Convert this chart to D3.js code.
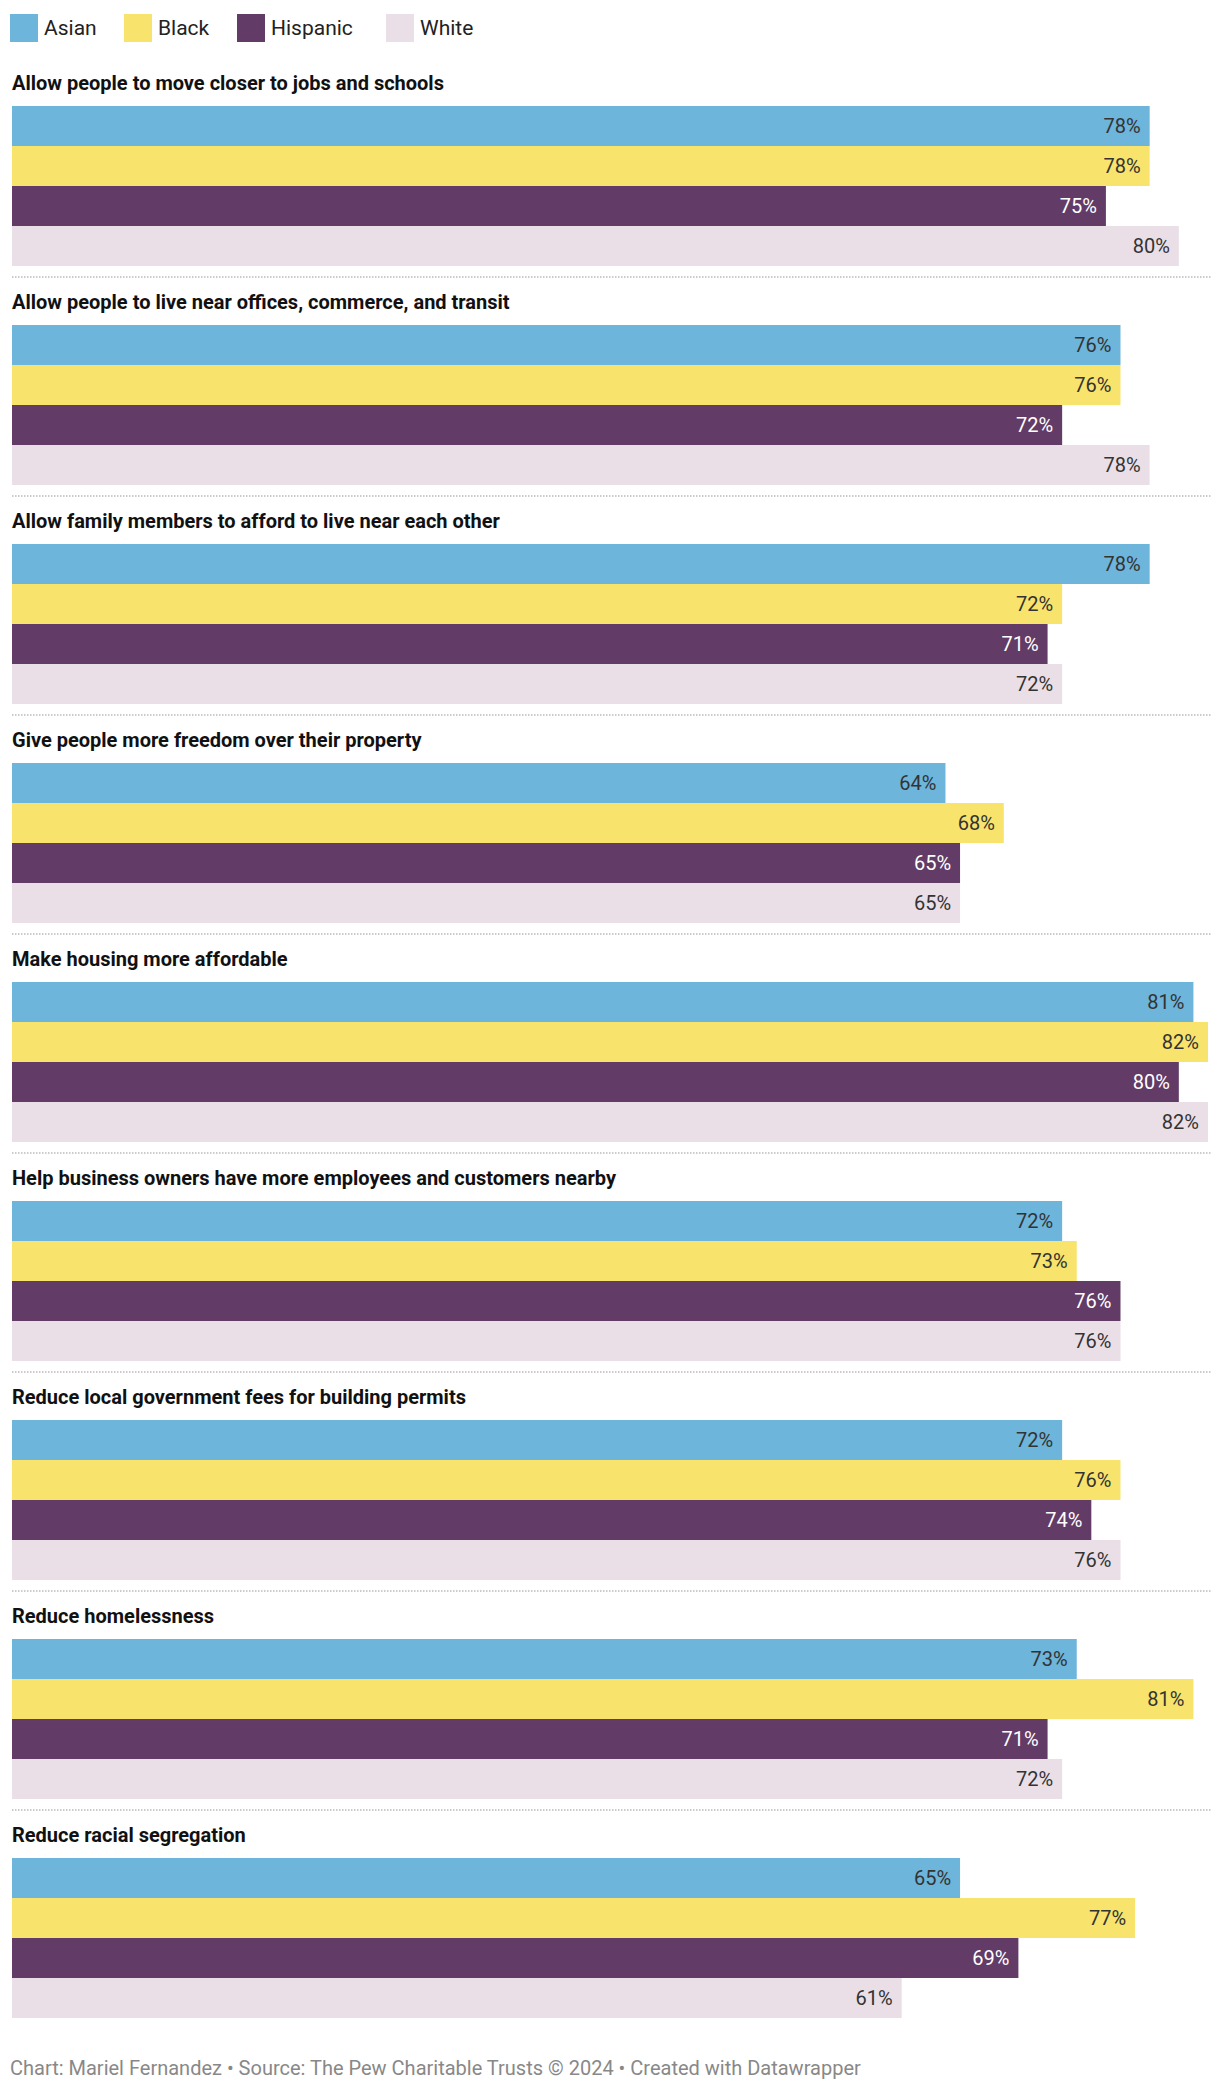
<!DOCTYPE html>
<html lang="en">
<head>
<meta charset="utf-8">
<title>Zoning reform support by race</title>
<style>
  body { margin: 0; background: #fff; font-family: Roboto, sans-serif; }
</style>
</head>
<body>
<svg id="chart"></svg>
<script src="https://cdn.jsdelivr.net/npm/d3@7"></script>
<script>
const series = ["Asian", "Black", "Hispanic", "White"];
const colors = ["#6db5da", "#f8e46c", "#623b67", "#eadfe7"];
const labelColors = ["#333", "#333", "#fff", "#333"];
const questions = [
  "Allow people to move closer to jobs and schools",
  "Allow people to live near offices, commerce, and transit",
  "Allow family members to afford to live near each other",
  "Give people more freedom over their property",
  "Make housing more affordable",
  "Help business owners have more employees and customers nearby",
  "Reduce local government fees for building permits",
  "Reduce homelessness",
  "Reduce racial segregation"
];
const asian    = [78, 76, 78, 64, 81, 72, 72, 73, 65];
const black    = [78, 76, 72, 68, 82, 73, 76, 81, 77];
const hispanic = [75, 72, 71, 65, 80, 76, 74, 71, 69];
const white    = [80, 78, 72, 65, 82, 76, 76, 72, 61];
const values = [asian, black, hispanic, white];

const W = 1220, H = 2092;
const marginLeft = 12, barH = 40, groupH = 219, marginTop = 106;

const svg = d3.select("#chart").attr("width", W).attr("height", H);

const x = d3.scaleLinear().domain([0, 82]).range([marginLeft, 1208]);
const yGroup = d3.scaleBand().domain(d3.range(questions.length))
  .range([marginTop, marginTop + groupH * questions.length]);
const ySub = d3.scaleBand().domain(series).range([0, barH * 4]);

// legend
const leg = svg.append("g").selectAll("g").data(series).join("g");
const legX = [10, 124, 237, 386];
leg.append("rect").attr("x", (d, i) => legX[i]).attr("y", 14).attr("width", 28).attr("height", 28)
  .attr("fill", (d, i) => colors[i]);
leg.append("text").attr("x", (d, i) => legX[i] + 34).attr("y", 35)
  .attr("font-size", 21).attr("fill", "#222").text(d => d);

const groups = svg.append("g").selectAll("g").data(questions).join("g")
  .attr("transform", (d, i) => `translate(0,${yGroup(i)})`);

groups.append("text").attr("x", 12).attr("y", -16)
  .attr("font-size", 20).attr("font-weight", 700).attr("fill", "#111").text(d => d);

groups.each(function(q, qi) {
  const g = d3.select(this);
  const rows = series.map((s, si) => ({ s, si, v: values[si][qi] }));
  g.selectAll("rect").data(rows).join("rect")
    .attr("x", marginLeft).attr("y", d => ySub(d.s))
    .attr("width", d => x(d.v) - marginLeft).attr("height", ySub.bandwidth())
    .attr("fill", d => colors[d.si]);
  g.selectAll("text.val").data(rows).join("text").attr("class", "val")
    .attr("x", d => x(d.v) - 9).attr("y", d => ySub(d.s) + barH / 2 + 7)
    .attr("text-anchor", "end").attr("font-size", 20)
    .attr("fill", d => labelColors[d.si]).text(d => d.v + "%");
  if (qi < questions.length - 1) {
    g.append("line").attr("x1", marginLeft).attr("x2", W - 8)
      .attr("y1", barH * 4 + 11).attr("y2", barH * 4 + 11)
      .attr("stroke", "#bbb").attr("stroke-width", 1.5).attr("stroke-dasharray", "1.5,1.5");
  }
});

svg.append("text").attr("x", 10).attr("y", 2075)
  .attr("font-size", 20).attr("fill", "#888")
  .text("Chart: Mariel Fernandez • Source: The Pew Charitable Trusts © 2024 • Created with Datawrapper");
</script>
</body>
</html>
